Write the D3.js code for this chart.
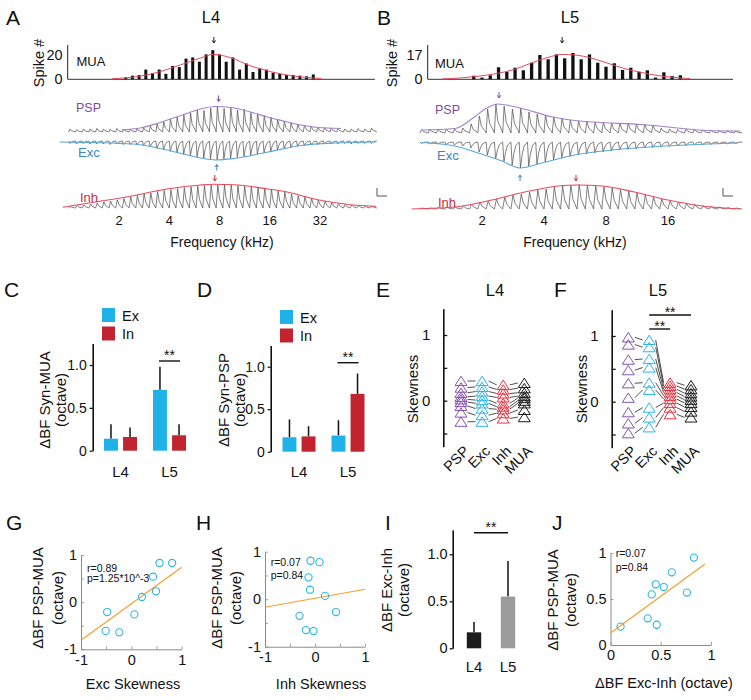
<!DOCTYPE html>
<html>
<head>
<meta charset="utf-8">
<title>Figure</title>
<script src="https://cdnjs.cloudflare.com/ajax/libs/d3/7.8.5/d3.min.js"></script>
<style>
  body { margin: 0; background: #fff; }
  svg text { font-family: "Liberation Sans", Arial, Helvetica, sans-serif; }
</style>
</head>
<body>
<svg id="fig" width="751" height="700"></svg>
<script>
//--------------------- data : A / B tone evoked responses
// tone sequence: starts at 1 kHz, 7.5 tones per octave
const toneStartKHz = 1;
const toneStepOct = 2 / 15;

// L4 (A)
const muaStartA = 8;   // first tone index with a MUA bar
const muaA = [1.5,3,3.5,8,5,8,4.5,11,10,17,18,14.5,20.5,24,20.5,14.5,18,8,13,6,9,8,5.5,4.5,3.5,3.5,3,2.5,4];
const muaFitA_kHz = [1.81,2.67,3.53,4.66,6.15,7.35,9.3,12.3,16.2,21.4,32.5];
const muaFitA = [0.4,2.6,6.3,11.8,17.5,20.5,17.8,11,6.3,3,0.7];
const pspA = [3,2.5,3,3,3.5,3,3,3.5,3,3,3.5,4.5,6,8,10,13,15,17,19,22,21.5,24,26,23.5,25,22,23,19.5,18.5,16.5,15,13,11,9.5,8,7,6,5,4.5,4,3.5,3,3,3.5,3,4];
const excA = [2.5,3,2.5,3,3,3,3.5,3,3.5,3.5,4,4.5,6,7.5,9,10.5,12,13.5,15,16,17,18,19,18.5,17.5,16.5,15.5,14.5,13,12,10.5,9,8,6.5,5.5,4.5,4,3.5,3,3,3,2.5,3,2.5,2.5,2.5];
const inhA = [1.5,2.5,3,4,5,6,7,8,9.5,11,12.5,14,15,16.5,17.5,18.5,19.5,20.5,21.5,22,22.5,23,23.5,23,23,22.5,22,21,20,19.5,18.5,17,16,14,12.5,11,9.5,8,7,5.5,4.5,3.5,3,2.5,2,2];
const envPspA_kHz = [2.08,2.68,3.30,4.06,5.21,6.14,7.58,9.32,12.3,15.1,19.4,24.5,31.0,42.7];
const envPspA = [2,4,8,13,19,23,25.5,24.5,20,15.5,11,7,4.5,3.5];
const envExcA_kHz = [0.88,2.43,3.89,6.14,7.58,9.75,15.6,24.6,39.0,69.5];
const envExcA = [1,3,9,17,19,17.5,11,4.5,2,1];
const envInhA_kHz = [0.92,1.54,2.43,3.89,6.14,7.36,9.75,15.6,19.4,31.0,49.0,69.5];
const envInhA = [0.7,6.7,12.3,19,23,23.7,23.3,19,16.7,8.3,3.3,1.7];
const bfA_kHz = [7.4, 7.9, 7.7, 7.5];   // MUA, PSP, Exc, Inh
const freqTicksA = [2, 4, 8, 16, 32];

// L5 (B)
const muaStartB = 6;
const muaB = [2.5,1.2,2.8,8.4,5.3,8.1,6.3,11.6,17,14,17.4,14.7,18.4,14,17.4,11.6,8.8,11.2,6.5,8.1,5.3,6.3,1.2,4.9,2.3,2.8];
const muaFitB_kHz = [1.28,1.85,2.39,2.89,3.5,4.18,4.89,5.66,6.84,8.18,9.89,11.96,14.3,20.5];
const muaFitB = [0.2,1.9,4.2,7,11.6,15.3,17.4,17,14.7,11.2,7.4,4.7,2.6,0.5];
const pspB = [3.5,4,3.5,4,4,5,9,17,24,29,27,24,25,21,19,18,16,15,13,12,12,11,11,10,10,10,9,9,8,5,4,3.5,4,3.5,3,3,2.5,2.5,2];
const excB = [1.5,2,2,2.5,3,4,6,10,13,17,20,23,26,24,22,20,18,16,14.5,13,12,11,10,9,8,7.5,7,6,5.5,5,4.5,4,3.5,3,3,2.5,2,2,1.5];
const inhB = [1,1,1.5,2,2,3,5,7,8,10,12,14,15,17,19,20,22,23,24,24.5,24,23.5,22.5,21,19.5,18,16,14,12,10,8.5,7,5.5,4.5,3.5,2.5,2,1.5,1];
const envPspB_kHz = [1.02,1.48,1.81,2.07,2.39,3.06,4.42,5.64,6.92,11.98,25.1,35.8];
const envPspB = [3,4.5,15,24,29,25,16,12.5,11,8.5,2.5,2];
const envExcB_kHz = [1.02,1.48,1.85,2.50,3.06,3.91,5.64,8.18,11.98,17.3,25.1,34.9];
const envExcB = [0.5,4,10,19,26,21,13,8.5,5.5,3.5,2,1];
const envInhB_kHz = [0.91,1.52,2.23,3.23,4.67,5.83,7.68,11.0,16.0,23.4,35.8];
const envInhB = [0,2.3,9,17,23,24,23,17,9,3,0];
const bfB_kHz = [4.9, 2.42, 3.06, 5.72];
const freqTicksB = [2, 4, 8, 16];

//--------------------- data : C, D, I bar charts (mean, upper sem)
const groups = ["L4", "L5"];
const synMuaEx = [0.14, 0.71], synMuaExErr = [0.17, 0.27];
const synMuaIn = [0.16, 0.18], synMuaInErr = [0.11, 0.13];
const synPspEx = [0.17, 0.19], synPspExErr = [0.21, 0.18];
const synPspIn = [0.18, 0.68], synPspInErr = [0.12, 0.24];
const excInh = [0.17, 0.55], excInhErr = [0.11, 0.38];

//--------------------- data : E, F skewness
const skewCols = ["PSP", "Exc", "Inh", "MUA"];
const skewE_psp = [0.30,0.20,0.12,0.06,0.02,-0.02,-0.08,-0.18,-0.32];
const skewE_exc = [0.30,0.21,0.14,0.07,0.01,-0.04,-0.12,-0.22,-0.32];
const skewE_inh = [0.24,0.17,0.11,0.05,-0.04,-0.09,-0.13,-0.19,-0.27];
const skewE_mua = [0.27,0.19,0.12,0.07,0.04,0.00,-0.04,-0.14,-0.25];
const skewF_psp = [0.98,0.87,0.64,0.48,0.28,0.06,-0.16,-0.33,-0.48];
const skewF_exc = [0.94,0.83,0.65,0.52,0.29,0.18,-0.09,-0.24,-0.39];
const skewF_inh = [0.29,0.24,0.19,0.14,0.09,0.04,-0.02,-0.09,-0.19];
const skewF_mua = [0.25,0.19,0.13,0.08,0.03,-0.02,-0.08,-0.15,-0.24];
const skewSigF = [["Exc", "Inh"], ["Exc", "MUA"]];

//--------------------- data : G, H, J scatter
const excSkewG = [-0.48,-0.51,-0.24,0.06,0.21,0.49,0.43,0.56,0.81];
const psMuaG = [-0.21,-0.61,-0.64,-0.26,0.11,0.23,0.54,0.83,0.83];
const fitG_x = [-1, 1], fitG_y = [-0.81, 0.74];
const statG = ["r=0.89", "p=1.25*10^-3"];
const inhSkewH = [-0.09,0.09,-0.13,-0.10,0.20,-0.31,0.42,-0.18,-0.03];
const psMuaH = [0.81,0.78,0.46,0.20,0.07,-0.35,-0.27,-0.65,-0.67];
const fitH_x = [-1, 1], fitH_y = [-0.17, 0.21];
const statH = ["r=0.07", "p=0.84"];
const exInhJ = [0.10,0.37,0.46,0.41,0.45,0.53,0.61,0.76,0.83];
const psMuaJ = [0.20,0.29,0.22,0.55,0.66,0.63,0.79,0.57,0.95];
const fitJ_x = [0, 0.94], fitJ_y = [0.13, 0.88];
const statJ = ["r=0.07", "p=0.84"];

//--------------------- colors
const cPSP = "#8853ae", cExc = "#2db5e8", cInh = "#ea2f3d", cMUA = "#1a1a1a";
const cPSPtxt = "#7d4aa6", cExcTxt = "#3a86c2", cInhTxt = "#c3303b";
const cPSPenv = "#a084c6", cExcEnv = "#5ba7d8", cInhEnv = "#ea4a5c", cFit = "#e44a60";
const cBarEx = "#1eb2e8", cBarIn = "#c1232f";
const cOrange = "#f4a030", cCircle = "#2cb6e8", cGrayAxis = "#8a8a8a";
const FONT = '"Liberation Sans", Arial, Helvetica, sans-serif';

let svg = d3.select("#fig");

function label(x, y, s, size, o) {
    o = o || {};
    let t = svg.append("text").attr("x", x).attr("y", y).text(s)
        .attr("font-size", size).attr("fill", o.fill || "#111")
        .attr("text-anchor", o.anchor || "start");
    if (o.base) t.attr("dominant-baseline", o.base);
    if (o.rot) t.attr("transform", `rotate(${o.rot},${x},${y})`);
    return t;
}

function styleAxis(g, size, color, width) {
    g.attr("font-size", size).attr("font-family", FONT);
    g.selectAll("text").attr("fill", "#111");
    g.select(".domain").attr("stroke", color).attr("stroke-width", width);
    g.selectAll(".tick line").attr("stroke", color).attr("stroke-width", width * 0.8);
}

// small vertical arrow
function arrow(x, yTop, down, color) {
    let y2 = yTop + 6, tip = down ? y2 : yTop, back = down ? -2.6 : 2.6;
    svg.append("path")
        .attr("d", `M${x},${yTop}V${y2}M${x - 1.7},${tip + back}L${x},${tip}L${x + 1.7},${tip + back}`)
        .attr("stroke", color).attr("fill", "none").attr("stroke-width", 1);
}

//--------------------- panel letters / titles
[["A", 6, 25], ["B", 377, 25], ["C", 4, 297], ["D", 197, 297], ["E", 376, 297],
 ["F", 554, 297], ["G", 6, 530], ["H", 196, 530], ["I", 385, 530], ["J", 552, 530]]
    .forEach(d => label(d[1], d[2], d[0], 21));
label(211, 23, "L4", 16.5, {anchor: "middle"});
label(570, 23, "L5", 16.5, {anchor: "middle"});
label(495, 296, "L4", 16.5, {anchor: "middle"});
label(658, 296, "L5", 16.5, {anchor: "middle"});

//--------------------- A / B
function drawTonePanel(p) {
    let x = d3.scaleLog().domain(p.kHzDomain).range(p.pxRange);
    let tones = d3.range(p.psp.length).map(i => toneStartKHz * Math.pow(2, i * toneStepOct));
    let step = x(tones[1]) - x(tones[0]);
    let amp = d3.scaleLinear().domain([0, 30]).range([0, 30]);

    // MUA histogram
    let yM = d3.scaleLinear().domain([0, p.muaTick]).range([p.muaBase, 55]);
    svg.append("line").attr("x1", p.muaAxisX).attr("x2", p.muaAxisX).attr("y1", 45).attr("y2", p.muaBase)
        .attr("stroke", "#222").attr("stroke-width", 1);
    svg.append("line").attr("x1", p.muaAxisX).attr("x2", p.muaEnd).attr("y1", p.muaBase).attr("y2", p.muaBase)
        .attr("stroke", "#333").attr("stroke-width", 1);
    let ga = svg.append("g").attr("transform", `translate(${p.muaAxisX},0)`)
        .call(d3.axisLeft(yM).tickValues([0, p.muaTick]).tickSize(0).tickPadding(5));
    ga.select(".domain").remove();
    ga.attr("font-size", 14.5).attr("font-family", FONT).selectAll("text").attr("fill", "#111");

    svg.append("g").selectAll("rect").data(p.mua).join("rect")
        .attr("x", (d, k) => x(tones[p.muaStart + k]) + step / 2 - p.barW / 2)
        .attr("y", d => yM(d)).attr("width", p.barW)
        .attr("height", d => p.muaBase - yM(d)).attr("fill", "#111");
    svg.append("path").datum(p.fit)
        .attr("d", d3.line().x((d, k) => x(p.fitKHz[k])).y(d => yM(d)).curve(d3.curveMonotoneX))
        .attr("fill", "none").attr("stroke", cFit).attr("stroke-width", 1);

    // traces: one response per tone, fast rise and slower decay
    function tracePts(amps, base, sign, shape) {
        let pts = [];
        amps.forEach((a, i) => {
            let x0 = x(tones[i]);
            shape.forEach(s => pts.push([x0 + s[0] * step, base - sign * amp(a) * s[1]]));
        });
        pts.push([x(tones[amps.length - 1]) + step, base]);
        return pts;
    }
    let shapes = {
        psp: [[0, 0], [0.18, 1], [0.42, 0.4], [0.92, 0.08]],
        exc: [[0, 0], [0.15, 1], [0.35, 0.5], [0.6, 0.15], [0.95, 0.02]],
        inh: [[0, 0], [0.25, 1], [0.5, 0.4], [0.92, 0.06]]
    };
    let line = d3.line();
    [["psp", 1], ["exc", -1], ["inh", 1]].forEach(([k, sign]) => {
        svg.append("path").attr("d", line(tracePts(p[k], p.base[k], sign, shapes[k])))
            .attr("fill", "none").attr("stroke", "#4a4a4a").attr("stroke-width", 0.7)
            .attr("stroke-linejoin", "round");
    });

    // fitted envelopes
    let envs = [["psp", 1, cPSPenv], ["exc", -1, cExcEnv], ["inh", 1, cInhEnv]];
    envs.forEach(([k, sign, col]) => {
        let e = p.env[k];
        svg.append("path").datum(e.amp)
            .attr("d", d3.line().x((d, j) => x(e.kHz[j])).y(d => p.base[k] - sign * amp(d)).curve(d3.curveMonotoneX))
            .attr("fill", "none").attr("stroke", col).attr("stroke-width", 1.1);
    });

    // best-frequency arrows
    arrow(x(p.bf[0]), p.arrowY[0], true, "#222");
    arrow(x(p.bf[1]), p.arrowY[1], true, cPSPtxt);
    arrow(x(p.bf[2]), p.arrowY[2], false, cExcTxt);
    arrow(x(p.bf[3]), p.arrowY[3], true, cInhTxt);

    // texts
    label(p.txt.spike[0], p.txt.spike[1], "Spike #", 14.5, {anchor: "middle", base: "central", rot: -90});
    label(p.txt.mua[0], p.txt.mua[1], "MUA", 13);
    label(p.txt.psp[0], p.txt.psp[1], "PSP", 12.5, {fill: cPSPtxt});
    label(p.txt.exc[0], p.txt.exc[1], "Exc", 13, {fill: cExcTxt});
    label(p.txt.inh[0], p.txt.inh[1], "Inh", 13, {fill: cInhTxt});
    p.freqTicks.forEach(f => label(x(f), 225, f, 13, {anchor: "middle"}));
    label(p.fCenter, 247, "Frequency (kHz)", 14, {anchor: "middle"});

    // scale bar
    svg.append("path").attr("d", `M${p.scaleBar[0]},${p.scaleBar[1]}V${p.scaleBar[1] + 8}H${p.scaleBar[0] + 10}`)
        .attr("fill", "none").attr("stroke", "#555").attr("stroke-width", 1);
}

drawTonePanel({
    kHzDomain: [2, 32], pxRange: [119, 320],
    muaAxisX: 67.7, muaEnd: 375, muaBase: 79.3, muaTick: 20, barW: 3,
    mua: muaA, muaStart: muaStartA, fitKHz: muaFitA_kHz, fit: muaFitA,
    psp: pspA, exc: excA, inh: inhA,
    env: {psp: {kHz: envPspA_kHz, amp: envPspA}, exc: {kHz: envExcA_kHz, amp: envExcA}, inh: {kHz: envInhA_kHz, amp: envInhA}},
    base: {psp: 132, exc: 141, inh: 208},
    bf: bfA_kHz, arrowY: [37, 95.5, 164.5, 175],
    txt: {spike: [39, 63], mua: [76.5, 66], psp: [76, 111.5], exc: [78, 156.5], inh: [80, 201.5]},
    freqTicks: freqTicksA, fCenter: 222, scaleBar: [377, 188]
});
drawTonePanel({
    kHzDomain: [2, 16], pxRange: [482, 668],
    muaAxisX: 427.7, muaEnd: 733, muaBase: 79.3, muaTick: 17, barW: 3.3,
    mua: muaB, muaStart: muaStartB, fitKHz: muaFitB_kHz, fit: muaFitB,
    psp: pspB, exc: excB, inh: inhB,
    env: {psp: {kHz: envPspB_kHz, amp: envPspB}, exc: {kHz: envExcB_kHz, amp: envExcB}, inh: {kHz: envInhB_kHz, amp: envInhB}},
    base: {psp: 133, exc: 142, inh: 209},
    bf: bfB_kHz, arrowY: [37, 92, 175, 175],
    txt: {spike: [392, 63], mua: [435, 68], psp: [435, 114], exc: [437, 160], inh: [438, 206.5]},
    freqTicks: freqTicksB, fCenter: 575, scaleBar: [723, 188]
});

//--------------------- C / D : Ex vs In bars
function stars(xc, yBase) {
    label(xc, yBase, "**", 14, {anchor: "middle"});
}

function drawExInPanel(p) {
    let y = d3.scaleLinear().domain([0, 1.25]).range([p.y0, p.y0 - 1.25 * p.ppu]);
    let xg = d3.scaleBand().domain(groups).range(p.groupRange);
    let xs = d3.scaleBand().domain(["Ex", "In"]).range([-16.5, 16.5]).paddingInner(0.27);
    let ga = svg.append("g").attr("transform", `translate(${p.axisX},0)`)
        .call(d3.axisLeft(y).tickValues([0, 0.5, 1]).tickFormat(d => d === 0 ? "0" : d3.format(".1f")(d))
            .tickSize(3).tickPadding(3).tickSizeOuter(0));
    styleAxis(ga, 14, "#111", 1.6);

    let series = [["Ex", p.ex, p.exErr, cBarEx], ["In", p.inn, p.inErr, cBarIn]];
    series.forEach(([key, vals, errs, col]) => {
        groups.forEach((gname, i) => {
            let bx = xg(gname) + xg.bandwidth() / 2 + xs(key);
            svg.append("line").attr("x1", bx + xs.bandwidth() / 2).attr("x2", bx + xs.bandwidth() / 2)
                .attr("y1", y(vals[i])).attr("y2", y(vals[i] + errs[i]))
                .attr("stroke", "#111").attr("stroke-width", 1.5);
            svg.append("rect").attr("x", bx).attr("width", xs.bandwidth())
                .attr("y", y(vals[i])).attr("height", y(0) - y(vals[i])).attr("fill", col);
        });
    });
    groups.forEach(gname => label(xg(gname) + xg.bandwidth() / 2, 476.5, gname, 15, {anchor: "middle"}));

    // significance on L5
    let c5 = xg("L5") + xg.bandwidth() / 2;
    let xa = c5 + xs("Ex") + xs.bandwidth() / 2, xb = c5 + xs("In") + xs.bandwidth() / 2;
    svg.append("line").attr("x1", xa - 1).attr("x2", xb + 1).attr("y1", p.sigY).attr("y2", p.sigY)
        .attr("stroke", "#111").attr("stroke-width", 1.4);
    stars((xa + xb) / 2, p.sigY - 1);

    // legend
    svg.append("rect").attr("x", p.legX).attr("y", p.legY).attr("width", 13).attr("height", 14).attr("fill", cBarEx);
    svg.append("rect").attr("x", p.legX).attr("y", p.legY + 18.5).attr("width", 13).attr("height", 14).attr("fill", cBarIn);
    label(p.legX + 20, p.legY + 12.5, "Ex", 14.5);
    label(p.legX + 20, p.legY + 31, "In", 14.5);

    label(p.ylabX[0], 400, p.ylab, 15, {anchor: "middle", base: "central", rot: -90});
    label(p.ylabX[1], 400, "(octave)", 15, {anchor: "middle", base: "central", rot: -90});
}

drawExInPanel({axisX: 92.7, y0: 450.7, ppu: 85.7, groupRange: [96, 194],
    ex: synMuaEx, exErr: synMuaExErr, inn: synMuaIn, inErr: synMuaInErr,
    sigY: 361, legX: 102, legY: 308, ylab: "ΔBF Syn-MUA", ylabX: [44.5, 60.5]});
drawExInPanel({axisX: 270.7, y0: 451.7, ppu: 85, groupRange: [274.5, 372.5],
    ex: synPspEx, exErr: synPspExErr, inn: synPspIn, inErr: synPspInErr,
    sigY: 362.7, legX: 280, legY: 310, ylab: "ΔBF Syn-PSP", ylabX: [223, 239]});

//--------------------- E / F : skewness
function drawSkewPanel(p) {
    let y = d3.scaleLinear().domain([-0.7, 1.4]).range([p.y0 + 0.7 * 65.7, p.y0 - 1.4 * 65.7]);
    let x = d3.scalePoint().domain(skewCols).range(p.colRange);
    let cols = [cPSP, cExc, cInh, cMUA];
    let ga = svg.append("g").attr("transform", `translate(${p.axisX},0)`)
        .call(d3.axisLeft(y).tickValues([-0.5, 0, 0.5, 1]).tickFormat(d => (d === 0 || d === 1) ? d : "")
            .tickSize(-4).tickPadding(13).tickSizeOuter(0));
    styleAxis(ga, 15, "#111", 1.6);

    // pairing lines between neighbouring columns
    for (let c = 0; c < 3; c++) {
        p.vals[c].forEach((v, k) => {
            svg.append("line")
                .attr("x1", x(skewCols[c]) + 6.5).attr("y1", y(v))
                .attr("x2", x(skewCols[c + 1]) - 6.5).attr("y2", y(p.vals[c + 1][k]))
                .attr("stroke", "#222").attr("stroke-width", 0.8);
        });
    }
    // open triangles
    let tri = "M-6,4.6L0,-4.8L6,4.6Z";
    p.vals.forEach((vals, c) => {
        svg.append("g").selectAll("path").data(vals).join("path")
            .attr("d", tri).attr("transform", d => `translate(${x(skewCols[c])},${y(d)})`)
            .attr("fill", "none").attr("stroke", cols[c]).attr("stroke-width", 1);
    });
    skewCols.forEach(c => label(x(c) + 9, 452, c, 14.5, {anchor: "end", rot: -45}));
    label(p.ylabX, 389, "Skewness", 15, {anchor: "middle", base: "central", rot: -90});

    (p.sig || []).forEach((s, i) => {
        let yy = p.sigY[i];
        svg.append("line").attr("x1", x(s[0])).attr("x2", x(s[1])).attr("y1", yy).attr("y2", yy)
            .attr("stroke", "#111").attr("stroke-width", 1.4);
        stars((x(s[0]) + x(s[1])) / 2, yy + 2);
    });
}

drawSkewPanel({axisX: 443.3, y0: 400.7, colRange: [461, 524.3], ylabX: 412.5,
    vals: [skewE_psp, skewE_exc, skewE_inh, skewE_mua]});
drawSkewPanel({axisX: 611.7, y0: 401.7, colRange: [628.3, 691], ylabX: 581,
    vals: [skewF_psp, skewF_exc, skewF_inh, skewF_mua], sig: skewSigF, sigY: [329, 315]});

//--------------------- G / H / J : scatter with fit
function drawScatter(p) {
    let x = d3.scaleLinear().domain(p.xDom).range(p.xRange);
    let y = d3.scaleLinear().domain(p.yDom).range(p.yRange);
    let fmt = d => d < 0 ? "-" + (-d) : String(d);
    let gx = svg.append("g").attr("transform", `translate(0,${p.yRange[0]})`)
        .call(d3.axisBottom(x).tickValues(p.xTicks).tickFormat(d => p.xLab.includes(d) ? fmt(d) : "")
            .tickSize(-3).tickSizeOuter(0).tickPadding(5));
    styleAxis(gx, 14.5, cGrayAxis, 1);
    let gy = svg.append("g").attr("transform", `translate(${p.xRange[0]},0)`)
        .call(d3.axisLeft(y).tickValues(p.yTicks).tickFormat(d => p.yLab.includes(d) ? fmt(d) : "")
            .tickSize(-3).tickSizeOuter(0).tickPadding(4));
    styleAxis(gy, 14.5, cGrayAxis, 1);

    svg.append("path").datum(p.fitY)
        .attr("d", d3.line().x((d, k) => x(p.fitX[k])).y(d => y(d)))
        .attr("stroke", cOrange).attr("stroke-width", 1.2).attr("fill", "none");
    svg.append("g").selectAll("circle").data(p.xs).join("circle")
        .attr("cx", d => x(d)).attr("cy", (d, k) => y(p.ys[k])).attr("r", 3.6)
        .attr("fill", "none").attr("stroke", cCircle).attr("stroke-width", 1.1);

    label(p.statPos[0], p.statPos[1], p.stat[0], 10.5);
    label(p.statPos[0], p.statPos[2], p.stat[1], 10.5);
    label(p.xlabPos[0], p.xlabPos[1], p.xlab, 14.5, {anchor: "middle"});
    label(p.ylabX[0], p.ylabY, "ΔBF PSP-MUA", 15, {anchor: "middle", base: "central", rot: -90});
    label(p.ylabX[1], p.ylabY, "(octave)", 15, {anchor: "middle", base: "central", rot: -90});
}

drawScatter({xDom: [-1, 1], xRange: [81, 181.7], yDom: [-1, 1], yRange: [649.3, 555],
    xTicks: [-1, -0.5, 0, 0.5, 1], xLab: [-1, 0, 1], yTicks: [-1, -0.5, 0, 0.5, 1], yLab: [-1, 0, 1],
    xs: excSkewG, ys: psMuaG, fitX: fitG_x, fitY: fitG_y, stat: statG, statPos: [87, 571.5, 582],
    xlab: "Exc Skewness", xlabPos: [133, 689], ylabX: [37.5, 57], ylabY: 598});
drawScatter({xDom: [-1, 1], xRange: [265, 365], yDom: [-1, 1], yRange: [646.7, 551.7],
    xTicks: [-1, -0.5, 0, 0.5, 1], xLab: [-1, 0, 1], yTicks: [-1, -0.5, 0, 0.5, 1], yLab: [-1, 0, 1],
    xs: inhSkewH, ys: psMuaH, fitX: fitH_x, fitY: fitH_y, stat: statH, statPos: [270.7, 565.5, 578.5],
    xlab: "Inh Skewness", xlabPos: [321, 689], ylabX: [216, 235], ylabY: 598});
drawScatter({xDom: [0, 1], xRange: [610.5, 711], yDom: [0, 1], yRange: [645, 553],
    xTicks: [0, 0.5, 1], xLab: [0, 0.5, 1], yTicks: [0, 0.5, 1], yLab: [0, 0.5, 1],
    xs: exInhJ, ys: psMuaJ, fitX: fitJ_x, fitY: fitJ_y, stat: statJ, statPos: [615.7, 557, 571],
    xlab: "ΔBF Exc-Inh (octave)", xlabPos: [664, 688], ylabX: [552, 570], ylabY: 600});

//--------------------- I : Exc-Inh bars
(function () {
    let y = d3.scaleLinear().domain([0, 1.26]).range([648.3, 648.3 - 1.26 * 94]);
    let xg = d3.scaleBand().domain(groups).range([457, 525]);
    let cols = ["#1c1c1c", "#9b9b9b"];
    let ga = svg.append("g").attr("transform", "translate(452.7,0)")
        .call(d3.axisLeft(y).tickValues([0, 0.5, 1]).tickFormat(d => d === 0 ? "0" : d3.format(".1f")(d))
            .tickSize(3).tickPadding(2).tickSizeOuter(0));
    styleAxis(ga, 14.5, "#111", 1.6);
    groups.forEach((gname, i) => {
        let cx = xg(gname) + xg.bandwidth() / 2;
        svg.append("line").attr("x1", cx).attr("x2", cx)
            .attr("y1", y(excInh[i])).attr("y2", y(excInh[i] + excInhErr[i]))
            .attr("stroke", "#111").attr("stroke-width", 1.5);
        svg.append("rect").attr("x", cx - 7.2).attr("width", 14.4)
            .attr("y", y(excInh[i])).attr("height", y(0) - y(excInh[i])).attr("fill", cols[i]);
        label(cx, 671.5, gname, 15, {anchor: "middle"});
    });
    let xa = xg("L4") + xg.bandwidth() / 2, xb = xg("L5") + xg.bandwidth() / 2;
    svg.append("line").attr("x1", xa).attr("x2", xb).attr("y1", 532.7).attr("y2", 532.7)
        .attr("stroke", "#111").attr("stroke-width", 1.4);
    stars((xa + xb) / 2, 532);
    label(386, 590, "ΔBF Exc-Inh", 15, {anchor: "middle", base: "central", rot: -90});
    label(403, 590, "(octave)", 15, {anchor: "middle", base: "central", rot: -90});
})();
</script>
</body>
</html>
